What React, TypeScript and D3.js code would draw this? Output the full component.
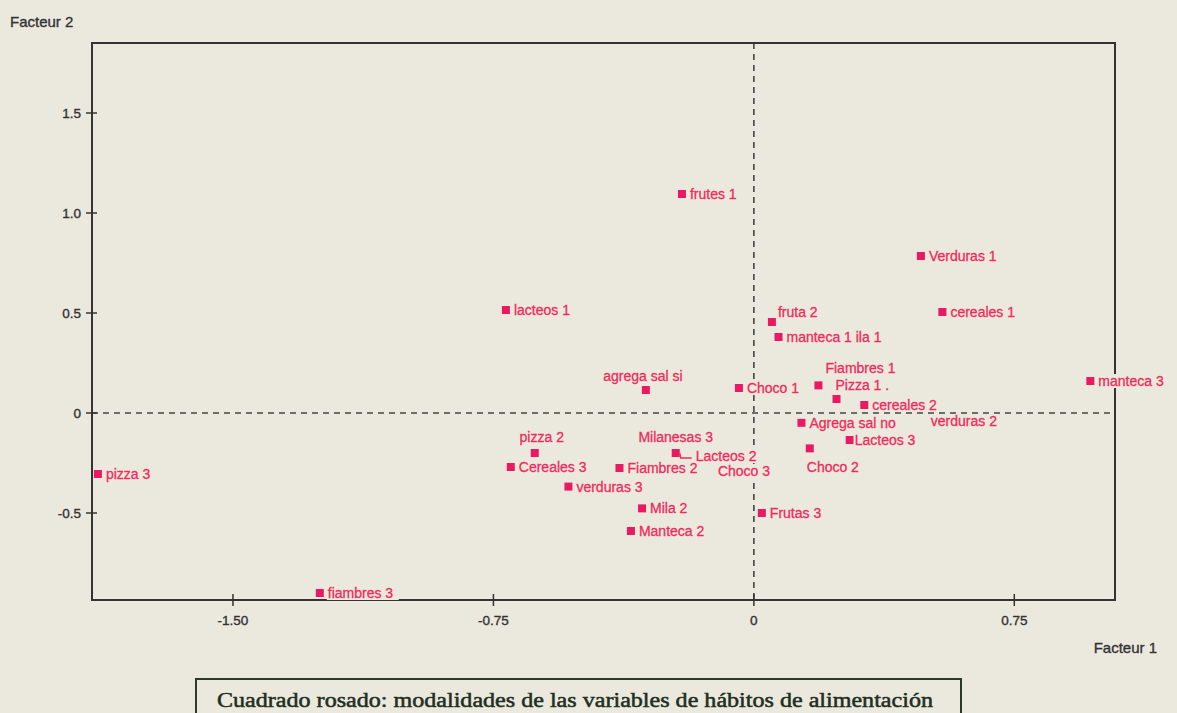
import React from "react";
import * as d3 from "d3";

const names = [
  "pizza 3", "fiambres 3", "lacteos 1", "frutes 1", "agrega sal si", "Choco 1",
  "fruta 2", "manteca 1 ila 1", "Fiambres 1", "Pizza 1 .", "cereales 2", "verduras 2",
  "Agrega sal no", "Choco 2", "Lacteos 3", "Verduras 1", "cereales 1", "manteca 3",
  "pizza 2", "Cereales 3", "Milanesas 3", "Lacteos 2", "Choco 3", "Fiambres 2",
  "verduras 3", "Mila 2", "Manteca 2", "Frutas 3",
];
const factor1 = [
  -1.889, -1.25, -0.714, -0.207, -0.311, -0.043,
  0.052, 0.071, 0.186, 0.238, 0.318, 0.501,
  0.137, 0.161, 0.276, 0.481, 0.543, 0.969,
  -0.631, -0.70, -0.225, -0.225, -0.141, -0.387,
  -0.534, -0.322, -0.354, 0.023,
];
const factor2 = [
  -0.305, -0.90, 0.515, 1.095, 0.115, 0.125,
  0.455, 0.38, 0.138, 0.07, 0.04, 0.035,
  -0.049, -0.177, -0.135, 0.785, 0.505, 0.16,
  -0.20, -0.27, -0.20, -0.20, -0.265, -0.275,
  -0.368, -0.477, -0.59, -0.50,
];

const xTicks = [-1.5, -0.75, 0, 0.75];
const xTickLabels = ["-1.50", "-0.75", "0", "0.75"];
const yTicks = [-0.5, 0, 0.5, 1.0, 1.5];
const yTickLabels = ["-0.5", "0", "0.5", "1.0", "1.5"];

const xAxisTitle = "Facteur 1";
const yAxisTitle = "Facteur 2";
const legendText = "Cuadrado rosado: modalidades de las variables de hábitos de alimentación";

// label placement (offsets from marker, in px) keyed by name
const labelPlacement: Record<string, { dx: number; dy: number; anchor?: string }> = {
  "agrega sal si": { dx: -3, dy: -14, anchor: "middle" },
  "fruta 2": { dx: 6, dy: -10 },
  "Fiambres 1": { dx: 7, dy: -17 },
  "Pizza 1 .": { dx: -1, dy: -14 },
  "verduras 2": { dx: 3, dy: 15 },
  "Choco 2": { dx: -3, dy: 19 },
  "Lacteos 3": { dx: 5, dy: 0 },
  "pizza 2": { dx: 7, dy: -16, anchor: "middle" },
  "Milanesas 3": { dx: 0, dy: -16, anchor: "middle" },
  "Lacteos 2": { dx: 20, dy: 3 },
  "Choco 3": { dx: 13, dy: 5 },
};
const hiddenMarkers = ["verduras 2", "Choco 3", "Milanesas 3"];

const W = 1177;
const H = 713;
const BG = "#ebe9de";
const PINK = "#f02a5c";
const SQUARE = "#ea1a62";
const DARK = "#333333";

export default function App() {
  const x = d3.scaleLinear().domain([-1.906, 1.04]).range([92, 1115]);
  const y = d3.scaleLinear().domain([-0.935, 1.85]).range([600, 43]);
  const [x0, x1] = x.range();
  const [y0, y1] = y.range();

  const pts = names.map((n, i) => ({ name: n, px: x(factor1[i]), py: y(factor2[i]) }));
  const font = "'Liberation Sans', Arial, sans-serif";
  const fs = 14;

  const measure = (s: string) => s.length * fs * 0.5;

  return (
    <svg width={W} height={H} style={{ position: "absolute", left: 0, top: 0, display: "block" }}>
      <rect x={0} y={0} width={W} height={H} fill={BG} />
      {/* dashed zero lines */}
      <line x1={x0} x2={x1} y1={y(0)} y2={y(0)} stroke="#444" strokeWidth={1.6} strokeDasharray="6 5" />
      <line x1={x(0)} x2={x(0)} y1={y1} y2={y0} stroke="#444" strokeWidth={1.6} strokeDasharray="6 5" />
      {/* frame */}
      <rect x={x0} y={y1} width={x1 - x0} height={y0 - y1} fill="none" stroke={DARK} strokeWidth={2} />
      {/* ticks */}
      {xTicks.map((t, i) => (
        <g key={"xt" + i}>
          <line x1={x(t)} x2={x(t)} y1={y0 - 6} y2={y0 + 6} stroke={DARK} strokeWidth={1.5} />
          <text x={x(t)} y={y0 + 25} textAnchor="middle" fontFamily={font} fontSize={13.5} fill={DARK}
            stroke={DARK} strokeWidth={0.35}>
            {xTickLabels[i]}
          </text>
        </g>
      ))}
      {yTicks.map((t, i) => (
        <g key={"yt" + i}>
          <line x1={x0 - 6} x2={x0 + 5} y1={y(t)} y2={y(t)} stroke={DARK} strokeWidth={1.5} />
          <text x={x0 - 11} y={y(t) + 5} textAnchor="end" fontFamily={font} fontSize={13.5} fill={DARK}
            stroke={DARK} strokeWidth={0.35}>
            {yTickLabels[i]}
          </text>
        </g>
      ))}
      <text x={10} y={27} fontFamily={font} fontSize={15} fill={DARK} stroke={DARK} strokeWidth={0.35}>{yAxisTitle}</text>
      <text x={1157} y={653} textAnchor="end" fontFamily={font} fontSize={15} fill={DARK} stroke={DARK} strokeWidth={0.35}>{xAxisTitle}</text>

      {/* markers */}
      {pts.filter((p) => !hiddenMarkers.includes(p.name)).map((p) => (
        <rect key={"m" + p.name} x={p.px - 4} y={p.py - 4} width={8} height={8} fill={SQUARE} />
      ))}
      {/* leader for Lacteos 2 */}
      {(() => {
        const p = pts.find((q) => q.name === "Lacteos 2")!;
        return (
          <polyline
            points={`${p.px + 4},${p.py} ${p.px + 5},${p.py + 5} ${p.px + 16},${p.py + 5}`}
            fill="none" stroke={PINK} strokeWidth={1.5}
          />
        );
      })()}
      {/* labels */}
      {pts.map((p) => {
        const pl = labelPlacement[p.name] || { dx: 8, dy: 0 };
        const anchor = pl.anchor || "start";
        const w = measure(p.name);
        const tx = p.px + pl.dx;
        const bx = anchor === "middle" ? tx - w / 2 : tx;
        const ty = p.py + pl.dy;
        return (
          <g key={"l" + p.name}>
            <rect x={bx - 1} y={ty - 7} width={w + 2} height={14} fill={BG} />
            <text x={tx} y={ty + 5} textAnchor={anchor} fontFamily={font} fontSize={fs} fill={PINK}
              stroke={PINK} strokeWidth={0.3}>
              {p.name}
            </text>
          </g>
        );
      })}

      {/* legend box */}
      <rect x={196} y={679} width={765} height={60} fill="none" stroke="#2a3a2a" strokeWidth={2} />
      <text x={217} y={707} fontFamily="'Liberation Serif', 'Times New Roman', serif" fontSize={20}
        fill="#1f2f22" stroke="#1f2f22" strokeWidth={0.5} textLength={716} lengthAdjust="spacingAndGlyphs">
        {legendText}
      </text>
    </svg>
  );
}
